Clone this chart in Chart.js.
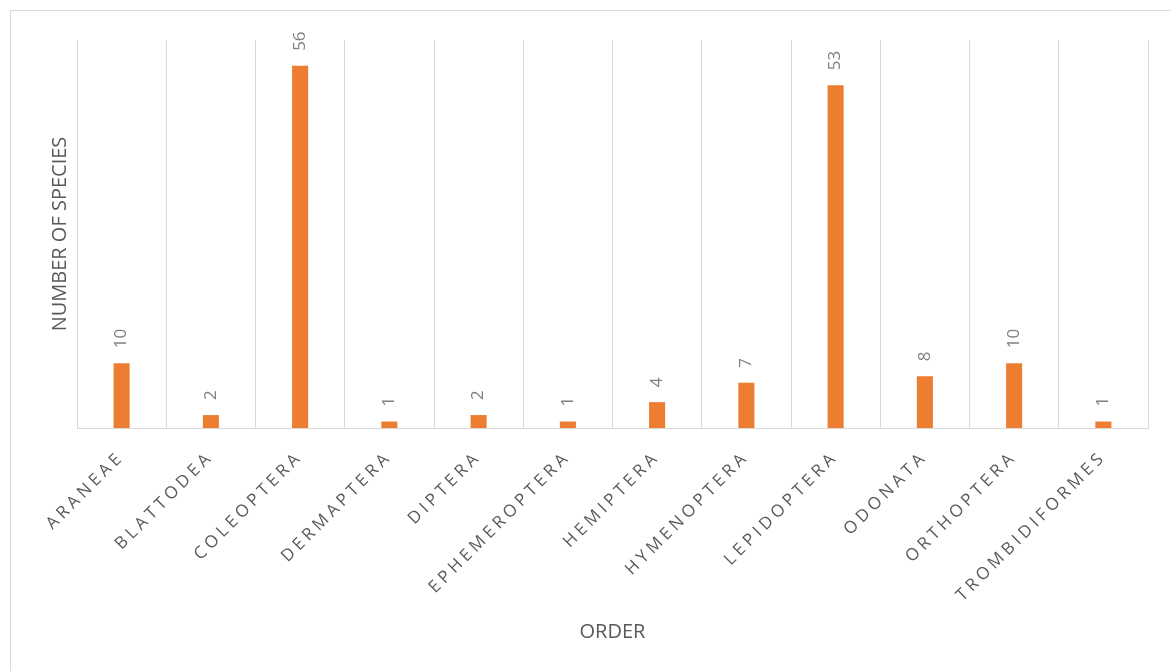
<!DOCTYPE html>
<html>
<head>
<meta charset="utf-8">
<script src="https://cdn.jsdelivr.net/npm/chart.js@4"></script>
<style>
    body { margin: 0; background: #fff; }
    .frame { position: absolute; left: 10px; top: 10px; width: 1300px; height: 800px; border: 1px solid #d9d9d9; }
    .wrap { position: absolute; left: 0; top: 0; width: 1171px; height: 671px; }
</style>
</head>
<body>
<div class="frame"></div>
<div class="wrap"><canvas id="chart" width="1171" height="671"></canvas></div>
<script>
const orders = ['ARANEAE', 'BLATTODEA', 'COLEOPTERA', 'DERMAPTERA', 'DIPTERA', 'EPHEMEROPTERA',
    'HEMIPTERA', 'HYMENOPTERA', 'LEPIDOPTERA', 'ODONATA', 'ORTHOPTERA', 'TROMBIDIFORMES'];
const speciesCounts = [10, 2, 56, 1, 2, 1, 4, 7, 53, 8, 10, 1];

// spaced-out category labels, like the original
const spacedTicks = {
    id: 'spacedTicks',
    beforeDraw(chart) {
        const scale = chart.scales.x;
        if (scale._spaced) return;
        const orig = scale.drawLabels;
        scale.drawLabels = function (area) {
            const ctx = this.ctx;
            ctx.save();
            ctx.letterSpacing = '4px';
            orig.call(this, area);
            ctx.restore();
        };
        scale._spaced = true;
    }
};

// vertical value labels above each bar
const barValues = {
    id: 'barValues',
    afterDatasetsDraw(chart) {
        const ctx = chart.ctx;
        const meta = chart.getDatasetMeta(0);
        ctx.save();
        ctx.font = '17px "Open Sans"';
        ctx.fillStyle = '#808080';
        ctx.textAlign = 'left';
        ctx.textBaseline = 'middle';
        meta.data.forEach((bar, i) => {
            ctx.save();
            ctx.translate(bar.x, bar.y - 15);
            ctx.rotate(-Math.PI / 2);
            ctx.fillText(String(speciesCounts[i]), 0, 0);
            ctx.restore();
        });
        ctx.restore();
    }
};

new Chart(document.getElementById('chart'), {
    type: 'bar',
    data: {
        labels: orders,
        datasets: [{
            data: speciesCounts,
            backgroundColor: '#ED7D31',
            barPercentage: 0.9,
            categoryPercentage: 0.2
        }]
    },
    options: {
        responsive: false,
        animation: false,
        devicePixelRatio: 1,
        layout: { padding: { left: 44, top: 40, right: 23, bottom: 20 } },
        plugins: {
            legend: { display: false },
            tooltip: { enabled: false }
        },
        scales: {
            x: {
                afterFit(scale) {
                    scale.height = 223;
                },
                grid: { color: '#d9d9d9', lineWidth: 1, drawTicks: false },
                border: { color: '#d9d9d9' },
                ticks: {
                    minRotation: 45,
                    maxRotation: 45,
                    padding: 19,
                    color: '#595959',
                    font: { family: 'Open Sans', size: 17 }
                },
                title: {
                    display: true,
                    text: 'ORDER',
                    color: '#595959',
                    font: { family: 'Open Sans', size: 20 },
                    padding: { top: 10, bottom: 7 }
                }
            },
            y: {
                min: 0,
                max: 60,
                grid: { display: false, drawTicks: false },
                border: { display: false },
                ticks: { display: false },
                title: {
                    display: true,
                    text: 'NUMBER OF SPECIES',
                    color: '#595959',
                    font: { family: 'Open Sans', size: 20 },
                    padding: { top: 4, bottom: 5 }
                }
            }
        }
    },
    plugins: [spacedTicks, barValues]
});
</script>
</body>
</html>
